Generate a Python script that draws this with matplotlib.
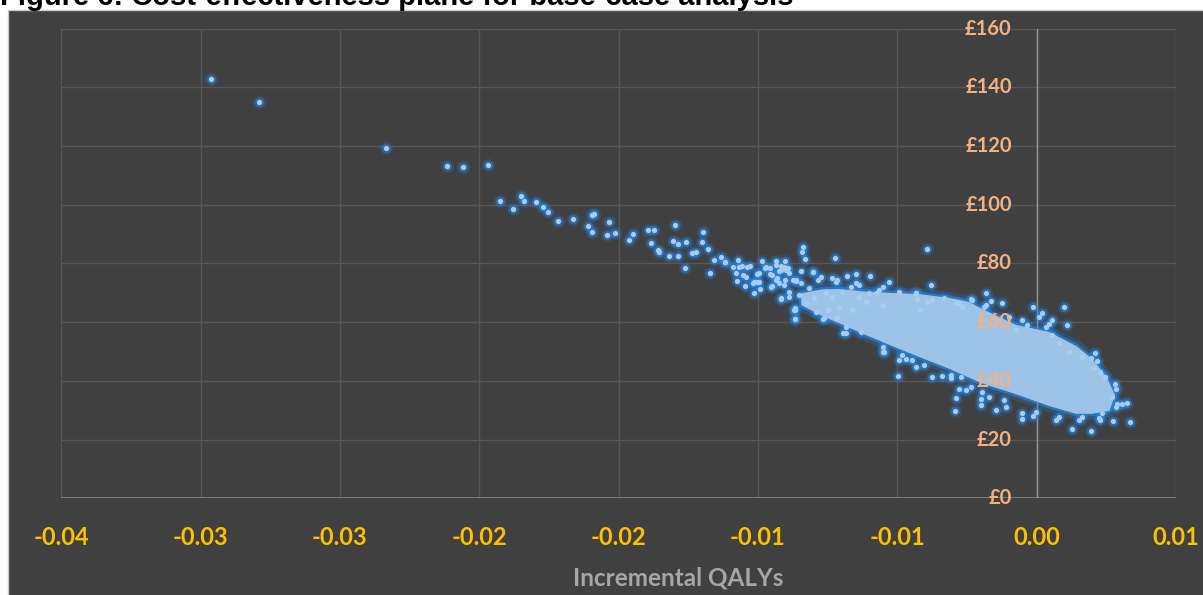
import matplotlib
matplotlib.use("Agg")
import matplotlib.pyplot as plt
from matplotlib.patches import Rectangle

# x ticks (Excel rounds the labels to 2 dp)
xticks = [-0.035, -0.030, -0.025, -0.020, -0.015, -0.010, -0.005, 0.0, 0.005]
xtick_labels = ['-0.04', '-0.03', '-0.03', '-0.02', '-0.02', '-0.01', '-0.01', '0.00', '0.01']
yticks = [0, 20, 40, 60, 80, 100, 120, 140, 160]
ytick_labels = ['£0', '£20', '£40', '£60', '£80', '£100', '£120', '£140', '£160']

# individual simulations (incremental QALYs, incremental cost)
inc_qaly = [
    -0.02964, -0.02791, -0.02335, -0.02117, -0.02060, -0.01969, -0.01924, -0.01878, -0.01849, -0.01841,
    -0.01796, -0.01772, -0.01755, -0.01718, -0.01663,
    -0.01611, -0.01595, -0.01596, -0.01587, -0.01536, -0.01541, -0.01512, -0.01464, -0.01447, -0.01393,
    -0.01372, -0.01385, -0.01360, -0.01356, -0.01319, -0.01299, -0.01306, -0.01286, -0.01286, -0.01258,
    -0.01262, -0.01236, -0.01221, -0.01196, -0.01200, -0.01179, -0.01171, -0.01158, -0.01134, -0.01118,
    -0.01088, -0.01072, -0.01079, -0.01057, -0.01038, -0.01029, -0.01075, -0.01055, -0.01048, -0.01013,
    -0.01014, -0.01004, -0.00995, -0.01004, -0.00991, -0.00986, -0.00975, -0.00958, -0.00957, -0.00937,
    -0.00919, -0.00903, -0.00924, -0.00918, -0.00892, -0.00948, -0.00924, -0.00902, -0.00888, -0.00932,
    -0.00916, -0.00888, -0.00863, -0.00840, -0.00842, -0.00830, -0.00844, -0.00866, -0.00867, -0.00724,
    -0.00801, -0.00762, -0.00695, -0.00683, -0.00683,
    -0.01117, -0.00394, -0.00378, -0.00529, -0.00599, -0.00647, -0.00679, -0.00733, -0.00716, -0.00866,
    -0.00866, -0.00766, -0.00715, -0.00629, -0.00552, -0.00497, -0.00434, -0.00428, -0.00332, -0.00234,
    -0.00181, -0.00163, -0.00188,
    -0.00123, -0.00012, 0.00018, 0.00098, 0.00110, 0.00056, 0.00044, 0.00008, 0.00194, 0.00217,
    0.00205, 0.00229, 0.00280, 0.00283, 0.00271, 0.00289, 0.00307, 0.00325, 0.00334, 0.00275,
    0.00229, 0.00194, 0.00128, -0.00293, -0.00340, -0.00308, -0.00288, -0.00278, -0.00201, -0.00147,
    -0.00117, -0.00052, -0.00052, -0.00012, -0.00547, -0.00553, -0.00418,
    -0.00846, -0.00816, -0.00786, -0.00756, -0.00798, -0.00828, -0.00733, -0.00697, -0.00667, -0.00637,
    -0.00709, -0.00661, -0.00613, -0.00577, -0.00553, -0.00750, -0.00792, -0.00852, -0.00888, -0.00906,
    -0.00935, -0.00953, -0.00918, -0.00995, -0.01019, -0.01043, -0.01067, -0.00971, -0.00900, -0.00876,
    -0.00649, -0.00601, -0.00553, -0.00494, -0.00434, -0.00374, -0.00278, -0.00231, -0.00183, -0.00099,
    -0.00052, 0.00163, 0.00247, 0.00211,
    -0.00494, -0.00434, -0.00374, -0.00254, -0.00171, -0.00111, -0.00004, 0.00068, 0.00152,
    -0.00935, -0.00906, -0.00948, -0.00864, -0.00804, -0.00774, -0.00565, -0.00637, -0.00720, -0.00870,
    -0.00482, -0.00446, -0.00404, -0.00308, -0.00272, -0.00470, -0.00290, -0.00267, -0.00392,
    0.00032, 0.00056, 0.00080, 0.00116, 0.00283, 0.00235, 0.00223, 0.00163, 0.00080, -0.00201,
    -0.00195, -0.00237, -0.00034, -0.00075,
]
inc_cost = [
    142.8, 135.0, 119.3, 113.1, 112.7, 113.5, 101.4, 98.6, 103.0, 101.4,
    100.9, 99.3, 97.4, 94.3, 95.1,
    92.7, 90.8, 96.5, 96.7, 94.0, 89.7, 90.4, 88.1, 90.0, 91.3,
    91.3, 86.8, 84.6, 83.8, 82.6, 93.1, 87.6, 86.5, 82.6, 87.2,
    78.3, 83.4, 84.0, 90.7, 87.2, 84.9, 76.8, 81.3, 82.1, 80.5,
    78.7, 81.2, 76.8, 79.1, 78.7, 79.1, 74.0, 76.0, 72.3, 70.0,
    73.8, 73.7, 73.8, 76.4, 71.2, 80.9, 78.4, 78.3, 76.4, 80.9,
    79.2, 80.9, 77.5, 77.8, 78.5, 72.3, 73.2, 74.3, 76.6, 75.0,
    68.0, 68.7, 74.0, 85.7, 83.8, 81.4, 77.5, 64.7, 61.2, 81.8,
    77.2, 61.3, 56.4, 56.4, 58.4,
    80.6, 84.9, 72.6, 73.8, 75.7, 76.3, 75.8, 74.9, 74.3, 64.1,
    61.1, 61.0, 61.3, 56.7, 49.9, 41.6, 70.0, 67.8, 68.1, 67.8,
    69.8, 67.3, 65.0,
    66.6, 65.0, 63.0, 65.2, 59.0, 60.7, 59.4, 61.8, 47.7, 46.8,
    44.3, 43.1, 38.8, 37.1, 34.6, 32.1, 32.1, 32.5, 25.9, 26.3,
    26.6, 23.0, 23.5, 29.7, 41.6, 42.0, 34.0, 37.1, 31.8, 30.1,
    33.5, 28.9, 27.0, 28.1, 49.9, 51.6, 64.1,
    73.2, 71.5, 74.3, 69.8, 68.1, 66.4, 68.7, 70.4, 72.1, 68.7,
    65.2, 64.1, 67.0, 69.8, 65.8, 64.1, 63.5, 69.2, 70.4, 72.6,
    74.3, 72.1, 68.1, 76.6, 73.2, 75.5, 78.9, 78.9, 77.7, 74.3,
    73.2, 69.8, 72.1, 70.4, 69.8, 67.5, 66.4, 67.5, 65.8, 61.8,
    60.7, 48.2, 41.4, 49.4,
    47.1, 44.8, 41.4, 36.9, 34.6, 31.2, 29.5, 26.6, 26.6,
    79.5, 78.9, 76.0, 74.3, 77.2, 75.5, 70.9, 72.6, 73.8, 64.1,
    48.8, 47.1, 45.4, 40.9, 41.4, 47.3, 66.4, 65.2, 67.0,
    58.4, 55.6, 52.8, 49.9, 31.2, 28.9, 27.2, 27.8, 27.8, 33.7,
    36.3, 38.0, 59.0, 57.3,
]

# outline of the solid, overplotted core of the cloud
core_qaly = [-0.00841, -0.00770, -0.00709, -0.00601, -0.00422, -0.00314, -0.00243, -0.00196, -0.00074,
             0.00044, 0.00141, 0.00198, 0.00248, 0.00277, 0.00259, 0.00198, 0.00141, 0.00044,
             -0.00074, -0.00196, -0.00314, -0.00422, -0.00500, -0.00601, -0.00709, -0.00770, -0.00841]
core_cost = [69.5, 70.8, 70.9, 69.9, 69.2, 67.9, 66.5, 64.1, 58.7,
             56.3, 51.5, 47.1, 41.0, 35.2, 30.1, 29.1, 29.1, 31.8,
             35.8, 39.5, 44.5, 48.5, 51.5, 55.5, 60.0, 62.5, 66.0]

W, H = 1203, 595
fig = plt.figure(figsize=(W / 100, H / 100), dpi=100, facecolor='white')

# dark chart area
fig.patches.append(Rectangle((8 / W, -0.01), 1, 1.01 - 9.5 / H, transform=fig.transFigure,
                             facecolor='#404040', edgecolor='#c8c8c8', linewidth=1, zorder=-10))

fig.text(0.0, 1 - 5 / H, 'Figure 6: Cost-effectiveness plane for base-case analysis',
         fontsize=21, fontweight='bold', family='Liberation Sans', color='black', va='baseline')

ax = fig.add_axes([61.2 / W, 1 - 498.2 / H, (1176 - 61.2) / W, 469.6 / H])
ax.set_facecolor('none')
ax.set_xlim(-0.035, 0.005)
ax.set_ylim(0, 160)
for s in ax.spines.values():
    s.set_visible(False)

for v in xticks:
    ax.axvline(v, color='#575757', lw=1, zorder=1)
for v in yticks[1:]:
    ax.axhline(v, color='#575757', lw=1, zorder=1)
ax.axhline(0, color='#808080', lw=2, zorder=2)
ax.axvline(0, color='#999999', lw=1, zorder=2)

# glow
ax.scatter(inc_qaly, inc_cost, s=95, color='#1f7fe0', alpha=0.2, lw=0, zorder=3)
ax.scatter(inc_qaly, inc_cost, s=45, color='#2a88e6', alpha=0.5, lw=0, zorder=3)
ax.fill(core_qaly, core_cost, facecolor='none', edgecolor='#1f7fe0', lw=10, alpha=0.25,
        joinstyle='round', zorder=3)
ax.fill(core_qaly, core_cost, facecolor='#2a88e6', edgecolor='#2a88e6', lw=5, alpha=0.6,
        joinstyle='round', zorder=3)
ax.fill(core_qaly, core_cost, facecolor='#9dc3e6', edgecolor='#9dc3e6', lw=1.5,
        joinstyle='round', zorder=4)
ax.scatter(inc_qaly, inc_cost, s=14, color='#a9cdef', lw=0, zorder=5)

ax.set_xticks(xticks)
ax.set_xticklabels(xtick_labels)
ax.set_yticks([])
ax.tick_params(axis='x', length=0, pad=20, labelcolor='#ffc000', labelsize=17)
for lab in ax.get_xticklabels():
    lab.set_fontweight('bold')
    lab.set_family('Lato')

for v, t in zip(yticks, ytick_labels):
    ax.annotate(t, (0, v), xytext=(-18, 0), textcoords='offset points', ha='right', va='center',
                color='#f4b183', fontsize=14.5, fontweight='bold', family='Lato', zorder=6)

fig.text(678 / W, 1 - 578 / H, 'Incremental QALYs', ha='center', va='center',
         color='#a6a6a6', fontsize=17.5, fontweight='bold', family='Lato')

fig.savefig('out.png', dpi=100, facecolor='white')
